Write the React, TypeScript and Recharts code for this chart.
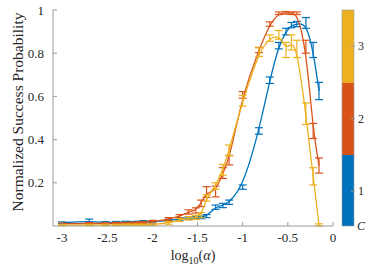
import { ErrorBar, Line, LineChart, XAxis, YAxis } from "recharts";

// log10(alpha) sample positions shared by all three curves
const xs = [
	-3, -2.7, -2.52, -2.4, -2.3, -2.22, -2.15, -2.1, -2, -1.82, -1.7, -1.6, -1.52,
	-1.46, -1.4, -1.3, -1.22, -1.15, -1, -0.82, -0.7, -0.6, -0.52, -0.46, -0.4,
	-0.3, -0.22, -0.155,
];

const blueVals = [
	0.015, 0.022, 0.016, 0.017, 0.018, 0.017, 0.018, 0.02, 0.02, 0.026, 0.033,
	0.036, 0.038, 0.04, 0.046, 0.087, 0.095, 0.11, 0.18, 0.44, 0.675, 0.835, 0.9,
	0.93, 0.935, 0.94, 0.815, 0.625,
];
const blueErr = [
	0.004, 0.01, 0.004, 0.004, 0.004, 0.004, 0.004, 0.005, 0.005, 0.005, 0.006,
	0.006, 0.006, 0.006, 0.007, 0.01, 0.01, 0.01, 0.01, 0.015, 0.015, 0.015,
	0.015, 0.012, 0.012, 0.025, 0.035, 0.04,
];

const orangeVals = [
	0.01, 0.012, 0.012, 0.013, 0.013, 0.014, 0.015, 0.016, 0.02, 0.032, 0.045,
	0.065, 0.072, 0.105, 0.157, 0.16, 0.245, 0.305, 0.607, 0.815, 0.935, 0.985,
	0.987, 0.985, 0.985, 0.83, 0.44, 0.28,
];
const orangeErr = [
	0.004, 0.004, 0.004, 0.004, 0.004, 0.004, 0.004, 0.005, 0.006, 0.007, 0.008,
	0.01, 0.012, 0.015, 0.025, 0.025, 0.025, 0.022, 0.015, 0.012, 0.01, 0.006,
	0.006, 0.006, 0.006, 0.03, 0.035, 0.035,
];

const yellowVals = [
	0.004, 0.005, 0.005, 0.005, 0.006, 0.006, 0.006, 0.006, 0.006, 0.014, 0.028,
	0.036, 0.04, 0.05, 0.13, 0.185, 0.26, 0.35, 0.58, 0.805, 0.87, 0.885, 0.815,
	0.85, 0.82, 0.52, 0.23, 0.005,
];
const yellowErr = [
	0.003, 0.003, 0.003, 0.003, 0.003, 0.003, 0.003, 0.003, 0.003, 0.006, 0.007,
	0.008, 0.01, 0.012, 0.015, 0.015, 0.025, 0.025, 0.025, 0.02, 0.015, 0.02,
	0.035, 0.035, 0.04, 0.05, 0.04, 0.005,
];

const xTicks = [-3, -2.5, -2, -1.5, -1, -0.5, 0];
const yTicks = [0.2, 0.4, 0.6, 0.8, 1];
const cbLabels = ["3", "2", "1"];

const BLUE = "#0072BD";
const ORANGE = "#D95319";
const YELLOW = "#EDB120";
const AXIS = "#9a9a9a";
const TEXT = "#262626";
const FONT = "Liberation Serif, serif";

const toRows = (vals: number[], errs: number[]) =>
	xs.map((x, i) => ({ x, y: vals[i], e: errs[i] }));

const series = [
	{ key: "c1", color: BLUE, data: toRows(blueVals, blueErr) },
	{ key: "c2", color: ORANGE, data: toRows(orangeVals, orangeErr) },
	{ key: "c3", color: YELLOW, data: toRows(yellowVals, yellowErr) },
];

const tickStyle = { fill: TEXT, fontSize: 13, fontFamily: FONT };
const blank = () => "";

export default function App() {
	return (
		<div
			style={{
				position: "absolute",
				left: 0,
				top: 0,
				width: 374,
				height: 270,
				fontFamily: FONT,
			}}
		>
			<LineChart
				width={374}
				height={270}
				margin={{ top: 10, right: 41, bottom: 0, left: 0 }}
			>
				<XAxis
					dataKey="x"
					type="number"
					domain={[-3.1, 0]}
					ticks={xTicks}
					allowDataOverflow
					height={44}
					stroke={AXIS}
					tickSize={-4}
					tickMargin={11}
					tick={tickStyle}
				/>
				<XAxis
					xAxisId="top"
					orientation="top"
					dataKey="x"
					type="number"
					domain={[-3.1, 0]}
					ticks={xTicks}
					allowDataOverflow
					height={0}
					stroke={AXIS}
					tickSize={-4}
					tickFormatter={blank}
				/>
				<YAxis
					type="number"
					domain={[0, 1]}
					ticks={yTicks}
					allowDataOverflow
					width={53}
					stroke={AXIS}
					tickSize={-4}
					tickMargin={13}
					tick={tickStyle}
				/>
				<YAxis
					yAxisId="right"
					orientation="right"
					type="number"
					domain={[0, 1]}
					ticks={yTicks}
					width={0}
					stroke={AXIS}
					tickSize={-4}
					tickFormatter={blank}
				/>
				{series.map((s) => (
					<Line
						key={s.key}
						data={s.data}
						dataKey="y"
						type="basis"
						stroke={s.color}
						strokeWidth={1.3}
						dot={false}
						isAnimationActive={false}
					>
						<ErrorBar
							dataKey="e"
							direction="y"
							width={4}
							stroke={s.color}
							strokeWidth={1.2}
						/>
					</Line>
				))}
			</LineChart>
			<svg
				width={374}
				height={270}
				style={{
					position: "absolute",
					left: 0,
					top: 0,
					pointerEvents: "none",
					fontFamily: FONT,
				}}
				fill={TEXT}
			>
				<text
					transform="translate(23,112) rotate(-90)"
					textAnchor="middle"
					fontSize={15.5}
				>
					Normalized Success Probability
				</text>
				<text x={193} y={260} textAnchor="middle" fontSize={14}>
					log
					<tspan fontSize={10} dy={4}>
						10
					</tspan>
					<tspan dy={-4}>(</tspan>
					<tspan fontStyle="italic">α</tspan>)
				</text>
				<rect x={342} y={10} width={12} height={73} fill={YELLOW} />
				<rect x={342} y={83} width={12} height={72} fill={ORANGE} />
				<rect x={342} y={155} width={12} height={71} fill={BLUE} />
				<rect
					x={342}
					y={10}
					width={12}
					height={216}
					fill="none"
					stroke={AXIS}
					strokeWidth={0.6}
				/>
				{cbLabels.map((t, i) => {
					const y = 46 + i * 72.5;
					return (
						<g key={t}>
							<line x1={351} x2={355} y1={y} y2={y} stroke={AXIS} />
							<text x={358} y={y + 4} fontSize={12}>
								{t}
							</text>
						</g>
					);
				})}
				<text x={357} y={230} fontSize={12} fontStyle="italic">
					C
				</text>
			</svg>
		</div>
	);
}
